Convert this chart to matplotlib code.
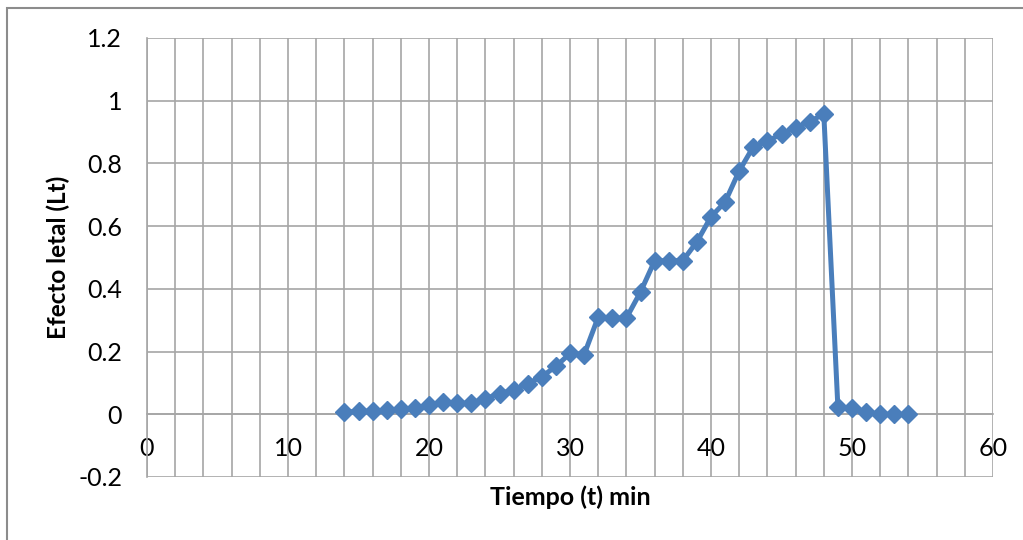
"""
Efecto letal (Lt) vs tiempo: recreation of an Excel-style scatter chart.
"""
import matplotlib.pyplot as plt
from matplotlib.patches import Rectangle
from matplotlib.ticker import MultipleLocator

plt.rcParams.update({
    "font.family": ["Lato", "DejaVu Sans"],
    "font.size": 15,
})

# data
TIEMPO = list(range(14, 55))
EFECTO_LETAL = [
    0.006, 0.010, 0.010, 0.013, 0.016, 0.019, 0.029, 0.038, 0.035, 0.035,
    0.050, 0.066, 0.077, 0.098, 0.120, 0.153, 0.194, 0.190, 0.310, 0.307,
    0.307, 0.390, 0.489, 0.490, 0.490, 0.550, 0.630, 0.677, 0.776, 0.853,
    0.870, 0.895, 0.914, 0.933, 0.958, 0.022, 0.019, 0.007, 0.000, 0.000,
    0.000,
]
X_TICKS = [0, 10, 20, 30, 40, 50, 60]
Y_TICKS = [-0.2, 0, 0.2, 0.4, 0.6, 0.8, 1.0, 1.2]
Y_TICK_LABELS = ["-0.2", "0", "0.2", "0.4", "0.6", "0.8", "1", "1.2"]

BLUE = "#4A7EBB"
GRID = "#A6A6A6"

fig = plt.figure(figsize=(10.23, 5.4), dpi=100)
ax = fig.add_axes([147 / 1023, 1 - 477 / 540, 846 / 1023, 439 / 540])

# outer chart frame (only top and left edges are visible in the crop)
fig.patches.append(Rectangle((7 / 1023, -0.1), 1.2, 1 - 8 / 540 + 0.1,
                             transform=fig.transFigure, fill=False,
                             edgecolor="#8C8C8C", linewidth=1.5, zorder=0))

ax.plot(TIEMPO, EFECTO_LETAL, color=BLUE, linewidth=3.6, marker="D",
        markersize=9.5, markerfacecolor=BLUE, markeredgecolor=BLUE,
        zorder=3, clip_on=False)

ax.set_xlim(0, 60)
ax.set_ylim(-0.2, 1.2)
ax.set_xticks(X_TICKS)
ax.xaxis.set_minor_locator(MultipleLocator(2))
ax.set_yticks(Y_TICKS)
ax.set_yticklabels(Y_TICK_LABELS)

ax.grid(True, which="both", axis="x", color=GRID, linewidth=1.2, zorder=0)
ax.grid(True, which="major", axis="y", color=GRID, linewidth=1.2, zorder=0)
ax.set_axisbelow(True)

for side in ("top", "right"):
    ax.spines[side].set_visible(False)
ax.spines["bottom"].set_position(("data", 0))
ax.spines["bottom"].set_color(GRID)
ax.spines["left"].set_color(GRID)
ax.spines["bottom"].set_linewidth(1.2)
ax.spines["left"].set_linewidth(1.2)

ax.tick_params(axis="x", which="both", length=0, pad=16, labelsize=18)
ax.tick_params(axis="y", which="both", length=0, pad=18, labelsize=18)

ax.set_xlabel("Tiempo (t) min", fontweight="bold", fontsize=18, va="center")
ax.xaxis.set_label_coords(0.5, -20 / 439)
ax.set_ylabel("Efecto letal (Lt)", fontweight="bold", fontsize=17.5, va="center")
ax.yaxis.set_label_coords(-89 / 846, 0.5)

fig.savefig("out.png", dpi=100)
